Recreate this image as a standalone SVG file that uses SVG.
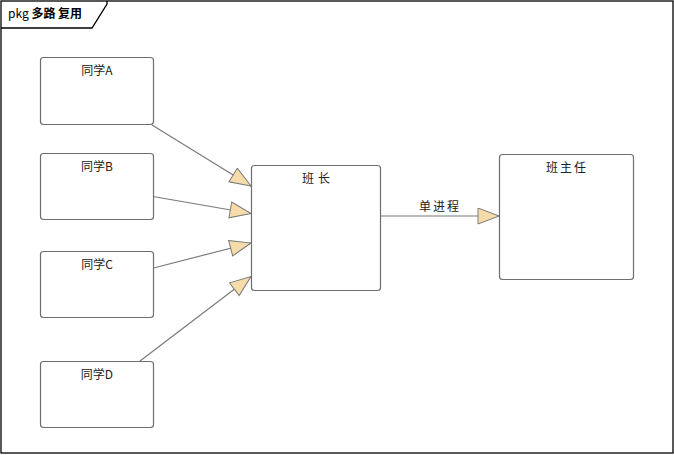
<svg xmlns="http://www.w3.org/2000/svg" width="674" height="455" viewBox="0 0 674 455">
<style>
  .node { fill: #ffffff; stroke: #6e6e6e; stroke-width: 1.2; }
  .lbl { font-family: "Noto Sans CJK SC", "Liberation Sans", sans-serif; font-size: 12px; fill: #222222; text-anchor: middle; }
  .edge { stroke: #7a7a7a; stroke-width: 1.2; fill: none; }
  .head { fill: #f6dcab; stroke: #7a7a7a; stroke-width: 1; }
  .frame { fill: none; stroke: #000000; stroke-width: 1.3; }
</style>
<defs>
  <marker id="tri" markerWidth="24" markerHeight="18" refX="22" refY="8.5" orient="auto" markerUnits="userSpaceOnUse">
    <path d="M1,0.5 L22,8.5 L1,16.5 Z" class="head"/>
  </marker>
</defs>
<rect width="674" height="455" fill="#ffffff"/>
<g id="frame">
  <rect x="1" y="1" width="672" height="452" class="frame"/>
  <path d="M1,28 L92,28 L107,4 L107,1" class="frame"/>
  <text x="8" y="18" style="font-family: 'Noto Sans CJK SC', 'Liberation Sans', sans-serif; font-size: 12px; fill:#000;">pkg <tspan font-weight="bold">多路 复用</tspan></text>
</g>
<g id="connectors">
  <line x1="152" y1="125" x2="251" y2="186" class="edge" marker-end="url(#tri)"/>
  <line x1="153" y1="196.5" x2="251" y2="213.5" class="edge" marker-end="url(#tri)"/>
  <line x1="153.5" y1="268" x2="251" y2="243" class="edge" marker-end="url(#tri)"/>
  <line x1="140" y1="361" x2="251" y2="276.5" class="edge" marker-end="url(#tri)"/>
  <line x1="380" y1="216" x2="499" y2="216" class="edge" marker-end="url(#tri)"/>
  <text x="440" y="211" class="lbl" letter-spacing="2">单进程</text>
</g>
<g id="nodeA">
  <rect x="40.5" y="57.5" width="113" height="67" rx="3" class="node"/>
  <text x="97" y="75" class="lbl">同学A</text>
</g>
<g id="nodeB">
  <rect x="40.5" y="153.5" width="113" height="66" rx="3" class="node"/>
  <text x="97" y="171" class="lbl">同学B</text>
</g>
<g id="nodeC">
  <rect x="40.5" y="251.5" width="113" height="66" rx="3" class="node"/>
  <text x="97" y="269" class="lbl">同学C</text>
</g>
<g id="nodeD">
  <rect x="40.5" y="361.5" width="113" height="66" rx="3" class="node"/>
  <text x="97" y="379" class="lbl">同学D</text>
</g>
<g id="banzhang">
  <rect x="251.5" y="165.5" width="129" height="125" rx="3" class="node"/>
  <text x="318" y="183" class="lbl" letter-spacing="4">班长</text>
</g>
<g id="banzhuren">
  <rect x="499.5" y="154.5" width="134" height="125" rx="3" class="node"/>
  <text x="567" y="172" class="lbl" letter-spacing="2">班主任</text>
</g>
</svg>
